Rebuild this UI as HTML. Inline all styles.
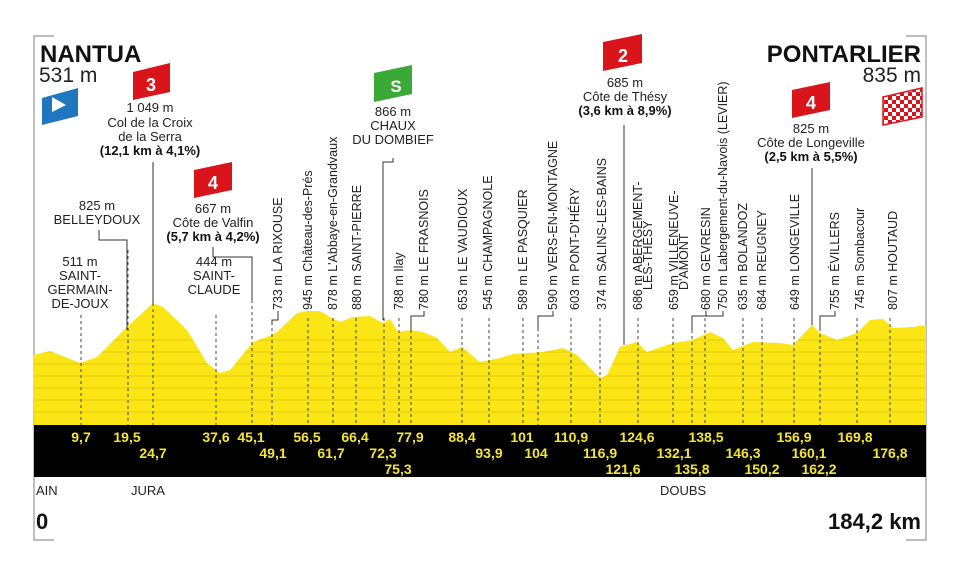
<!DOCTYPE html>
<html><head><meta charset="utf-8"><style>
html,body{margin:0;padding:0;background:#fff;}
svg{display:block;font-family:"Liberation Sans",sans-serif;}
.n{font-family:"Liberation Sans Narrow","Liberation Sans",sans-serif;font-weight:bold;font-size:14px;fill:#f4e534;text-anchor:middle;}
.r{font-size:12.5px;fill:#222;}
.c{font-size:13px;fill:#222;text-anchor:middle;}
.cb{font-size:13px;fill:#111;text-anchor:middle;font-weight:bold;}
.d{stroke:#444;stroke-width:1;stroke-dasharray:3,3;}
.s{stroke:#333;stroke-width:1;fill:none;}
</style></head><body>
<svg width="960" height="577" viewBox="0 0 960 577">
<defs>
<clipPath id="pc"><polygon id="pp" points="34,425 33,355 50,351 80,363 97,357 127,327 153,303 163,307 187,330 207,363 220,373 230,370 253,342 267,337 277,332 297,313 307,311 320,311 330,317 340,322 353,317 370,316 383,323 390,319 398,332 410,330 423,332 437,338 450,352 462,347 480,362 500,358 513,354 543,352 563,348 577,355 600,378 607,375 620,347 637,342 647,352 673,343 693,340 710,332 723,338 733,350 753,342 780,343 793,345 812,325 820,333 837,340 857,333 870,320 883,319 893,328 913,327 926,325 926,425"/></clipPath>
<pattern id="ck" width="8" height="8" patternUnits="userSpaceOnUse"><rect width="8" height="8" fill="#fff"/><rect width="4" height="4" fill="#d9151b"/><rect x="4" y="4" width="4" height="4" fill="#d9151b"/></pattern>
</defs>
<!-- frame -->
<path d="M54,36H34V540H54" stroke="#aaa" stroke-width="1.5" fill="none"/>
<path d="M906,36H926V540H906" stroke="#aaa" stroke-width="1.5" fill="none"/>
<!-- profile -->
<g clip-path="url(#pc)">
<rect x="30" y="290" width="900" height="140" fill="#fbe514"/>
<g stroke="#e3cc10" stroke-width="1">
<line x1="34" y1="340" x2="926" y2="340"/><line x1="34" y1="352" x2="926" y2="352"/><line x1="34" y1="364" x2="926" y2="364"/><line x1="34" y1="376" x2="926" y2="376"/><line x1="34" y1="388" x2="926" y2="388"/><line x1="34" y1="400" x2="926" y2="400"/><line x1="34" y1="412" x2="926" y2="412"/>
</g>
</g>
<rect x="34" y="425" width="892" height="52" fill="#000"/>
<!-- dashed verticals -->
<g class="d">
<line x1="81" y1="315" x2="81" y2="425"/><line x1="128" y1="250" x2="128" y2="425"/><line x1="153" y1="303" x2="153" y2="425"/>
<line x1="216" y1="315" x2="216" y2="425"/><line x1="252" y1="300" x2="252" y2="425"/><line x1="272" y1="322" x2="272" y2="425"/>
<line x1="308" y1="318" x2="308" y2="425"/><line x1="333" y1="318" x2="333" y2="425"/><line x1="356" y1="318" x2="356" y2="425"/>
<line x1="384" y1="318" x2="384" y2="425"/><line x1="399" y1="318" x2="399" y2="425"/><line x1="411" y1="330" x2="411" y2="425"/>
<line x1="462" y1="318" x2="462" y2="425"/><line x1="489" y1="318" x2="489" y2="425"/><line x1="523" y1="318" x2="523" y2="425"/>
<line x1="538" y1="328" x2="538" y2="425"/><line x1="571" y1="318" x2="571" y2="425"/><line x1="600" y1="318" x2="600" y2="425"/>
<line x1="638" y1="318" x2="638" y2="425"/><line x1="673" y1="318" x2="673" y2="425"/><line x1="692" y1="330" x2="692" y2="425"/>
<line x1="705" y1="318" x2="705" y2="425"/><line x1="743" y1="318" x2="743" y2="425"/><line x1="762" y1="318" x2="762" y2="425"/>
<line x1="794" y1="318" x2="794" y2="425"/><line x1="820" y1="328" x2="820" y2="425"/><line x1="857" y1="318" x2="857" y2="425"/><line x1="890" y1="318" x2="890" y2="425"/>
</g>
<!-- solid connectors -->
<path class="s" d="M153,162V303"/>
<path class="s" d="M99,230V240H127V330"/>
<path class="s" d="M213,247V257H252V300"/>
<path class="s" d="M393,158V162H383V320"/>
<path class="s" d="M624,125V345"/>
<path class="s" d="M812,168V325"/>
<path class="s" d="M278,311V320H272V325"/>
<path class="s" d="M424,311V316H411V330"/>
<path class="s" d="M553,311V316H538V328"/>
<path class="s" d="M706,311V316H692V330"/>
<path class="s" d="M723,311V316H706"/>
<path class="s" d="M835,311V316H820V328"/>
<!-- km numbers -->
<g class="n">
<text x="81" y="442">9,7</text><text x="127" y="442">19,5</text><text x="153" y="458">24,7</text>
<text x="216" y="442">37,6</text><text x="251" y="442">45,1</text><text x="273" y="458">49,1</text>
<text x="307" y="442">56,5</text><text x="331" y="458">61,7</text><text x="355" y="442">66,4</text>
<text x="383" y="458">72,3</text><text x="398" y="474">75,3</text><text x="410" y="442">77,9</text>
<text x="462" y="442">88,4</text><text x="489" y="458">93,9</text><text x="522" y="442">101</text>
<text x="536" y="458">104</text><text x="571" y="442">110,9</text><text x="600" y="458">116,9</text>
<text x="623" y="474">121,6</text><text x="637" y="442">124,6</text><text x="674" y="458">132,1</text>
<text x="692" y="474">135,8</text><text x="706" y="442">138,5</text><text x="743" y="458">146,3</text>
<text x="762" y="474">150,2</text><text x="794" y="442">156,9</text><text x="809" y="458">160,1</text>
<text x="819" y="474">162,2</text><text x="855" y="442">169,8</text><text x="890" y="458">176,8</text>
</g>
<!-- rotated labels -->
<g class="r">
<text transform="translate(282,310) rotate(-90)">733 m LA RIXOUSE</text>
<text transform="translate(312,310) rotate(-90)">945 m Château-des-Prés</text>
<text transform="translate(337,310) rotate(-90)">878 m L'Abbaye-en-Grandvaux</text>
<text transform="translate(361,310) rotate(-90)">880 m SAINT-PIERRE</text>
<text transform="translate(403,310) rotate(-90)">788 m Ilay</text>
<text transform="translate(428,310) rotate(-90)">780 m LE FRASNOIS</text>
<text transform="translate(467,310) rotate(-90)">653 m LE VAUDIOUX</text>
<text transform="translate(492,310) rotate(-90)">545 m CHAMPAGNOLE</text>
<text transform="translate(527,310) rotate(-90)">589 m LE PASQUIER</text>
<text transform="translate(557,310) rotate(-90)">590 m VERS-EN-MONTAGNE</text>
<text transform="translate(579,310) rotate(-90)">603 m PONT-D'HÉRY</text>
<text transform="translate(606,310) rotate(-90)">374 m SALINS-LES-BAINS</text>
<text transform="translate(642,310) rotate(-90)">686 m ABERGEMENT-</text>
<text transform="translate(652,290) rotate(-90)">LÈS-THÉSY</text>
<text transform="translate(678,310) rotate(-90)">659 m VILLENEUVE-</text>
<text transform="translate(688,290) rotate(-90)">D'AMONT</text>
<text transform="translate(710,310) rotate(-90)">680 m GEVRESIN</text>
<text transform="translate(727,310) rotate(-90)">750 m Labergement-du-Navois (LEVIER)</text>
<text transform="translate(747,310) rotate(-90)">635 m BOLANDOZ</text>
<text transform="translate(766,310) rotate(-90)">684 m REUGNEY</text>
<text transform="translate(799,310) rotate(-90)">649 m LONGEVILLE</text>
<text transform="translate(839,310) rotate(-90)">755 m ÉVILLERS</text>
<text transform="translate(864,310) rotate(-90)">745 m Sombacour</text>
<text transform="translate(897,310) rotate(-90)">807 m HOUTAUD</text>
</g>
<!-- left labels -->
<text x="40" y="62" font-size="24" font-weight="bold" fill="#111">NANTUA</text>
<text x="39" y="82" font-size="21" fill="#222">531 m</text>
<path d="M42,98 L78,88 V116 L42,125Z" fill="#1f77c0"/>
<path d="M52,97 L66,105 L52,112Z" fill="#fff"/>
<path d="M133,72 L170,63 V92 L133,100Z" fill="#d9151b"/>
<text x="151" y="91" font-size="18" font-weight="bold" fill="#fff" text-anchor="middle">3</text>
<g class="c"><text x="150" y="112">1 049 m</text><text x="150" y="127">Col de la Croix</text><text x="150" y="141">de la Serra</text></g>
<text class="cb" x="150" y="155">(12,1 km à 4,1%)</text>
<g class="c"><text x="97" y="210">825 m</text><text x="97" y="224">BELLEYDOUX</text>
<text x="80" y="266">511 m</text><text x="80" y="280">SAINT-</text><text x="80" y="294">GERMAIN-</text><text x="80" y="308">DE-JOUX</text>
<text x="214" y="266">444 m</text><text x="214" y="280">SAINT-</text><text x="214" y="294">CLAUDE</text>
<text x="213" y="213">667 m</text><text x="213" y="227">Côte de Valfin</text></g>
<text class="cb" x="213" y="241">(5,7 km à 4,2%)</text>
<path d="M194,170 L232,162 V190 L194,198Z" fill="#d9151b"/>
<text x="213" y="189" font-size="18" font-weight="bold" fill="#fff" text-anchor="middle">4</text>
<!-- sprint -->
<path d="M374,73 L412,65 V94 L374,102Z" fill="#3aa935"/>
<text x="396" y="92" font-size="17" font-weight="bold" fill="#fff" text-anchor="middle">S</text>
<g class="c"><text x="393" y="116">866 m</text><text x="393" y="130">CHAUX</text><text x="393" y="144">DU DOMBIEF</text></g>
<!-- Thesy -->
<path d="M603,42 L642,34 V63 L603,71Z" fill="#d9151b"/>
<text x="623" y="62" font-size="18" font-weight="bold" fill="#fff" text-anchor="middle">2</text>
<g class="c"><text x="625" y="87">685 m</text><text x="625" y="101">Côte de Thésy</text></g>
<text class="cb" x="625" y="115">(3,6 km à 8,9%)</text>
<!-- right -->
<text x="921" y="62" font-size="24" font-weight="bold" fill="#111" text-anchor="end">PONTARLIER</text>
<text x="921" y="82" font-size="21" fill="#222" text-anchor="end">835 m</text>
<path d="M792,90 L830,82 V110 L792,118Z" fill="#d9151b"/>
<text x="811" y="109" font-size="18" font-weight="bold" fill="#fff" text-anchor="middle">4</text>
<g class="c"><text x="811" y="133">825 m</text><text x="811" y="147">Côte de Longeville</text></g>
<text class="cb" x="811" y="161">(2,5 km à 5,5%)</text>
<path d="M883,97 L922,88 V117 L883,125Z" fill="url(#ck)" stroke="#d9151b" stroke-width="1.5"/>
<!-- bottom -->
<g font-family="Liberation Sans Narrow, Liberation Sans, sans-serif" font-size="13" fill="#222">
<text x="36" y="495">AIN</text><text x="131" y="495">JURA</text><text x="660" y="495">DOUBS</text></g>
<text x="36" y="529" font-family="Liberation Sans Narrow, Liberation Sans, sans-serif" font-size="22" font-weight="bold" fill="#111">0</text>
<text x="921" y="529" font-family="Liberation Sans Narrow, Liberation Sans, sans-serif" font-size="22" font-weight="bold" fill="#111" text-anchor="end">184,2 km</text>
</svg>
</body></html>
